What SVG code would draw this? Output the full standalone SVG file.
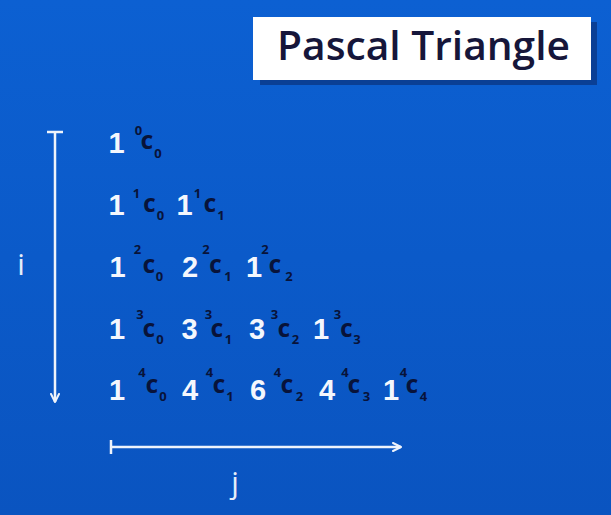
<svg xmlns="http://www.w3.org/2000/svg" width="611" height="515" viewBox="0 0 611 515">
<defs>
<linearGradient id="bg" x1="0" y1="0" x2="0" y2="1">
<stop offset="0" stop-color="#0c60d2"/>
<stop offset="1" stop-color="#0a54c0"/>
</linearGradient>
<marker id="ah" viewBox="0 0 10 10" refX="9" refY="5" markerWidth="10" markerHeight="10" markerUnits="userSpaceOnUse" orient="auto">
<path d="M1,1 L9,5 L1,9" fill="none" stroke="#eef3fb" stroke-width="2" stroke-linecap="round" stroke-linejoin="round"/>
</marker>
<style>
.n{font-family:"Liberation Sans","Open Sans",sans-serif;font-weight:700;font-size:29px;fill:#f4f7fd;text-anchor:middle}
.c{font-family:"Open Sans","Liberation Sans",sans-serif;font-weight:800;font-size:19px;fill:#08133a;text-anchor:middle}
.s{font-family:"Open Sans","Liberation Sans",sans-serif;font-weight:700;font-size:13px;fill:#08133a;text-anchor:middle}
.lbl{font-family:"Open Sans","Liberation Sans",sans-serif;font-size:30px;fill:#e6eef9;text-anchor:middle}
.ax{stroke:#eef3fb;stroke-width:2.5;fill:none}
</style>
</defs>
<rect width="611" height="515" fill="url(#bg)"/>
<g id="title">
<rect x="260" y="22" width="337" height="63" fill="#0a3f95"/>
<rect x="253" y="17" width="338" height="63" fill="#ffffff"/>
<text x="277" y="60" textLength="293" lengthAdjust="spacingAndGlyphs" style="font-family:'Open Sans','Liberation Sans',sans-serif;font-weight:600;font-size:39px;fill:#16163a">Pascal Triangle</text>
</g>
<g id="connectors">
<line class="ax" x1="55" y1="132" x2="55" y2="402" marker-end="url(#ah)"/>
<line class="ax" x1="47" y1="132" x2="63" y2="132"/>
<line class="ax" x1="111" y1="447" x2="401" y2="447" marker-end="url(#ah)"/>
<line class="ax" x1="111" y1="440" x2="111" y2="454"/>
</g>
<g id="label-i"><text class="lbl" x="21" y="275">i</text></g>
<g id="label-j"><text class="lbl" x="235" y="493">j</text></g>
<g id="row0">
<text class="n" x="116.5" y="153">1</text><text class="s" x="138.5" y="135">0</text><text class="c" x="147" y="149">C</text><text class="s" x="158" y="158">0</text>
</g>
<g id="row1">
<text class="n" x="116.5" y="215">1</text><text class="s" x="136.5" y="198">1</text><text class="c" x="149.5" y="212">C</text><text class="s" x="160.5" y="220">0</text>
<text class="n" x="184.5" y="215">1</text><text class="s" x="197.5" y="198">1</text><text class="c" x="210" y="212">C</text><text class="s" x="221" y="220">1</text>
</g>
<g id="row2">
<text class="n" x="117.5" y="277">1</text><text class="s" x="137.5" y="254">2</text><text class="c" x="149" y="273">C</text><text class="s" x="159.5" y="281">0</text>
<text class="n" x="190" y="277">2</text><text class="s" x="206" y="254">2</text><text class="c" x="215.5" y="273">C</text><text class="s" x="228" y="281">1</text>
<text class="n" x="254" y="277">1</text><text class="s" x="265" y="254">2</text><text class="c" x="275" y="273">C</text><text class="s" x="289" y="281">2</text>
</g>
<g id="row3">
<text class="n" x="117" y="339">1</text><text class="s" x="140" y="319">3</text><text class="c" x="149" y="337">C</text><text class="s" x="160" y="344">0</text>
<text class="n" x="189.5" y="339">3</text><text class="s" x="208.5" y="319">3</text><text class="c" x="217" y="337">C</text><text class="s" x="228.5" y="344">1</text>
<text class="n" x="257" y="339">3</text><text class="s" x="274.5" y="319">3</text><text class="c" x="284" y="337">C</text><text class="s" x="295.5" y="344">2</text>
<text class="n" x="321" y="339">1</text><text class="s" x="337.5" y="319">3</text><text class="c" x="346.5" y="337">C</text><text class="s" x="357" y="344">3</text>
</g>
<g id="row4">
<text class="n" x="117" y="400">1</text><text class="s" x="142" y="377">4</text><text class="c" x="152" y="393">C</text><text class="s" x="163" y="401">0</text>
<text class="n" x="190" y="400">4</text><text class="s" x="209.5" y="377">4</text><text class="c" x="219" y="393">C</text><text class="s" x="230" y="401">1</text>
<text class="n" x="258" y="400">6</text><text class="s" x="277.5" y="377">4</text><text class="c" x="287" y="393">C</text><text class="s" x="299.5" y="401">2</text>
<text class="n" x="327" y="400">4</text><text class="s" x="345" y="377">4</text><text class="c" x="354" y="393">C</text><text class="s" x="366.5" y="401">3</text>
<text class="n" x="391" y="400">1</text><text class="s" x="403.5" y="377">4</text><text class="c" x="412" y="393">C</text><text class="s" x="423.5" y="401">4</text>
</g>
</svg>
